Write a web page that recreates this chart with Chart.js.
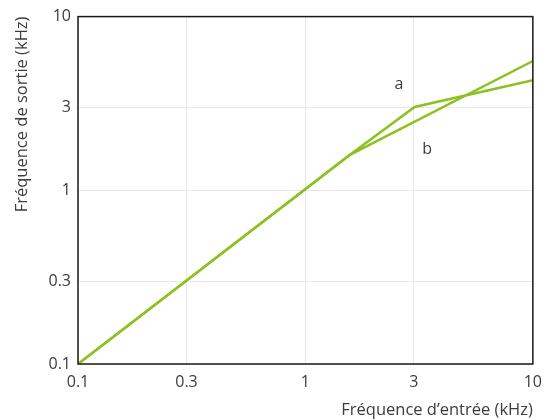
<!DOCTYPE html>
<html>
<head>
<meta charset="utf-8">
<script src="https://cdn.jsdelivr.net/npm/chart.js@4.4.1/dist/chart.umd.min.js"></script>
<style>
  html, body { margin: 0; padding: 0; background: #fff; }
  #wrap { width: 551px; height: 420px; }
</style>
</head>
<body>
<div id="wrap"><canvas id="c"></canvas></div>
<script>
// values (kHz, log-log)
const tickValues = [0.1, 0.3, 1, 3, 10];
const curveA = [{ x: 0.1, y: 0.1 }, { x: 1.57, y: 1.6 }, { x: 3.02, y: 3.02 }, { x: 10, y: 4.3 }];
const curveB = [{ x: 0.1, y: 0.1 }, { x: 1.57, y: 1.6 }, { x: 10, y: 5.55 }];
const curveLabels = [{ text: 'a', x: 2.58, y: 4.07 }, { text: 'b', x: 3.43, y: 1.71 }];

const green = '#8cc21f';
const textGrey = '#3c3c3c';
const fontFamily = '"Open Sans", "Noto Sans", sans-serif';

// frame round the plot area + the a / b labels
const framePlugin = {
    id: 'frame',
    afterDatasetsDraw(chart) {
        const { ctx, chartArea: a, scales } = chart;
        ctx.save();
        ctx.fillStyle = textGrey;
        ctx.font = '16px ' + fontFamily;
        ctx.textAlign = 'center';
        ctx.textBaseline = 'middle';
        curveLabels.forEach(l => {
            ctx.fillText(l.text, scales.x.getPixelForValue(l.x), scales.y.getPixelForValue(l.y));
        });
        ctx.strokeStyle = '#1a1a1a';
        ctx.lineWidth = 1.5;
        ctx.strokeRect(a.left, a.top, a.right - a.left, a.bottom - a.top);
        ctx.restore();
    }
};

function logAxis(title, isX) {
    return {
        type: 'logarithmic',
        min: 0.1,
        max: 10,
        afterBuildTicks: s => { s.ticks = tickValues.map(v => ({ value: v })); },
        afterFit: s => {
            if (isX) s.height = 420 - 364;
            else s.width = 78;
        },
        ticks: {
            color: textGrey,
            font: { family: fontFamily, size: 16 },
            padding: isX ? 9 : 7,
            autoSkip: false,
            maxRotation: 0,
            callback: v => String(v)
        },
        grid: { color: '#e8e8e8', lineWidth: 1, drawTicks: false },
        border: { display: false },
        title: {
            display: true,
            text: title,
            align: 'end',
            color: textGrey,
            font: { family: fontFamily, size: 16.5 },
            padding: isX ? { top: 2, bottom: 0 } : { top: 12, bottom: 6 }
        }
    };
}

new Chart(document.getElementById('c'), {
    type: 'line',
    data: {
        datasets: [
            { label: 'a', data: curveA, borderColor: green, borderWidth: 2.5, pointRadius: 0, tension: 0, fill: false },
            { label: 'b', data: curveB, borderColor: green, borderWidth: 2.5, pointRadius: 0, tension: 0, fill: false }
        ]
    },
    options: {
        responsive: true,
        maintainAspectRatio: false,
        animation: false,
        layout: { padding: { left: 0, right: 17, top: 14, bottom: 0 } },
        plugins: { legend: { display: false }, tooltip: { enabled: false } },
        scales: {
            x: logAxis('Fréquence d\u2019entrée (kHz)', true),
            y: logAxis('Fréquence de sortie (kHz)', false)
        }
    },
    plugins: [framePlugin]
});
</script>
</body>
</html>
